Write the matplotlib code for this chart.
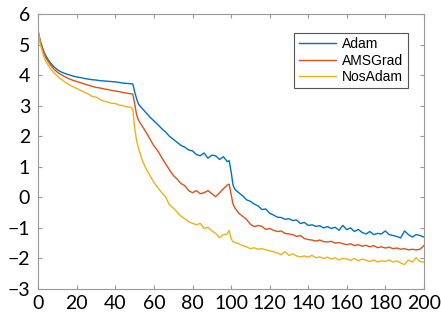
import numpy as np
import matplotlib
matplotlib.use("Agg")
from matplotlib import pyplot as plt

epochs = [0, 1, 2, 3, 4] + list(range(6, 49, 2)) + [49, 50, 51] + list(range(52, 99, 2)) + [99, 100, 101] + list(range(102, 201, 2))

adam = [5.40, 5.12, 4.92, 4.75, 4.62,
        4.42, 4.28, 4.17, 4.10, 4.05, 4.01, 3.97, 3.94, 3.92, 3.89, 3.87, 3.85, 3.84, 3.82, 3.81, 3.80, 3.79, 3.78, 3.76, 3.74, 3.73, 3.72,
        3.71, 3.45, 3.22,
        3.05, 2.90, 2.76, 2.62, 2.50, 2.38, 2.25, 2.14, 2.00, 1.90, 1.80, 1.70, 1.64, 1.55, 1.52, 1.40, 1.36, 1.45, 1.28, 1.38, 1.36, 1.24, 1.33, 1.17,
        1.20, 0.85, 0.40,
        0.26, 0.15, 0.05, -0.08, -0.13, -0.22, -0.28, -0.40, -0.38, -0.52, -0.58, -0.65, -0.66, -0.72, -0.70, -0.76, -0.74, -0.86, -0.82, -0.92,
        -0.90, -0.95, -0.93, -1.00, -0.96, -1.02, -0.98, -1.08, -0.92, -1.06, -1.00, -1.12, -1.05, -1.15, -1.20, -1.12, -1.22, -1.18, -1.20, -1.10,
        -1.22, -1.25, -1.28, -1.33, -1.10, -1.22, -1.30, -1.22, -1.25, -1.30]

amsgrad = [5.40, 5.10, 4.88, 4.70, 4.56,
           4.36, 4.20, 4.09, 4.01, 3.94, 3.88, 3.83, 3.79, 3.75, 3.71, 3.67, 3.63, 3.60, 3.58, 3.55, 3.53, 3.50, 3.48, 3.46, 3.43, 3.41, 3.39,
           3.38, 3.05, 2.70,
           2.52, 2.32, 2.12, 1.90, 1.68, 1.52, 1.30, 1.10, 0.90, 0.72, 0.60, 0.45, 0.38, 0.22, 0.15, 0.22, 0.12, 0.15, 0.22, 0.12, 0.02, 0.15, 0.28, 0.40,
           0.43, 0.10, -0.22,
           -0.35, -0.52, -0.62, -0.72, -0.88, -0.96, -0.92, -0.95, -1.05, -1.02, -1.08, -1.12, -1.10, -1.18, -1.20, -1.22, -1.28, -1.25, -1.35, -1.38,
           -1.40, -1.43, -1.40, -1.45, -1.46, -1.44, -1.50, -1.48, -1.52, -1.55, -1.52, -1.58, -1.55, -1.60, -1.57, -1.62, -1.58, -1.65, -1.62, -1.66,
           -1.63, -1.68, -1.66, -1.70, -1.68, -1.72, -1.70, -1.72, -1.70, -1.58]

nosadam = [5.40, 5.02, 4.78, 4.58, 4.44,
           4.24, 4.08, 3.96, 3.86, 3.77, 3.69, 3.62, 3.56, 3.50, 3.44, 3.38, 3.30, 3.28, 3.20, 3.15, 3.12, 3.08, 3.07, 3.02, 3.00, 2.96, 2.95,
           2.88, 2.25, 1.85,
           1.60, 1.20, 0.92, 0.70, 0.48, 0.32, 0.15, 0.02, -0.25, -0.35, -0.48, -0.62, -0.70, -0.80, -0.85, -0.90, -0.85, -1.02, -0.98, -1.10, -1.18, -1.32, -1.22, -1.20,
           -1.08, -1.35, -1.45,
           -1.48, -1.52, -1.58, -1.62, -1.68, -1.65, -1.70, -1.68, -1.72, -1.75, -1.78, -1.82, -1.88, -1.78, -1.90, -1.85, -1.92, -1.95, -1.92, -1.96,
           -1.90, -1.98, -1.95, -2.00, -1.96, -2.02, -1.98, -2.05, -2.00, -2.02, -2.06, -2.00, -2.08, -2.02, -2.06, -2.10, -2.05, -2.12, -2.08, -2.10,
           -2.05, -2.12, -2.08, -2.15, -2.20, -2.05, -2.12, -1.98, -2.10, -2.12]

labels = ["Adam", "AMSGrad", "NosAdam"]
colors = ["#0072BD", "#D95319", "#EDB120"]

fig = plt.figure(figsize=(4.41, 3.2), dpi=100)
ax = fig.add_axes([0.087, 0.097, 0.874, 0.859])

for ys, lab, c in zip([adam, amsgrad, nosadam], labels, colors):
    ax.plot(epochs, ys, color=c, lw=1.0, label=lab)

ax.set_xlim(0, 200)
ax.set_ylim(-3, 6)
ax.set_xticks(range(0, 201, 20))
ax.set_yticks(range(-3, 7))

for s in ax.spines.values():
    s.set_color("#999999")
    s.set_linewidth(0.8)
ax.tick_params(direction="in", length=3, width=0.8, color="#999999",
               labelsize=14, labelcolor="black", top=True, right=True,
               labeltop=False, labelright=False)
for t in ax.get_xticklabels() + ax.get_yticklabels():
    t.set_family("Lato")
ax.tick_params(axis="x", pad=4)
ax.tick_params(axis="y", pad=6)

leg = ax.legend(loc="upper right", bbox_to_anchor=(0.958, 0.931), borderaxespad=0,
                fancybox=False, framealpha=1, edgecolor="#555555",
                handlelength=2.7, labelspacing=0.18, borderpad=0.3, handletextpad=0.45,
                prop={"family": "Liberation Sans", "size": 10})
leg.get_frame().set_linewidth(0.8)

fig.savefig("out.png", dpi=100)
